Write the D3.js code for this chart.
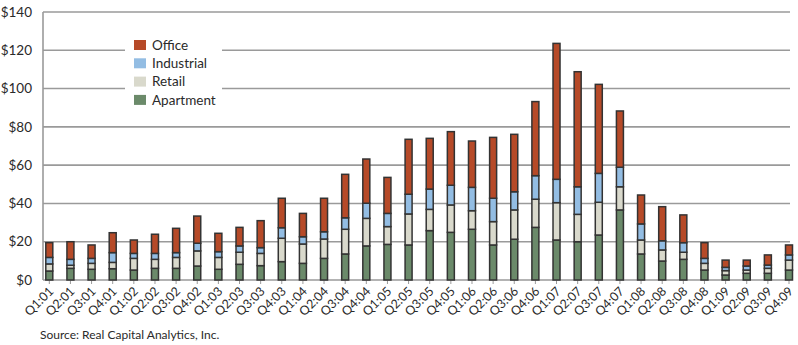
<!DOCTYPE html>
<html>
<head>
<meta charset="utf-8">
<script src="https://cdn.jsdelivr.net/npm/d3@7/dist/d3.min.js"></script>
<style>
  html, body { margin: 0; padding: 0; background: #fff; }
  svg { display: block; font-family: Lato, "Open Sans", sans-serif; }
</style>
</head>
<body>
<svg id="chart" width="798" height="345"></svg>
<script>
// Quarterly sales volume by property type ($ billions)
const quarters = [
  "Q1:01","Q2:01","Q3:01","Q4:01","Q1:02","Q2:02","Q3:02","Q4:02",
  "Q1:03","Q2:03","Q3:03","Q4:03","Q1:04","Q2:04","Q3:04","Q4:04",
  "Q1:05","Q2:05","Q3:05","Q4:05","Q1:06","Q2:06","Q3:06","Q4:06",
  "Q1:07","Q2:07","Q3:07","Q4:07","Q1:08","Q2:08","Q3:08","Q4:08",
  "Q1:09","Q2:09","Q3:09","Q4:09"
];
const apartment = [
  4.7, 6.1, 5.6, 5.9, 5.2, 6.1, 6.1, 7.3,
  5.6, 8.2, 7.5, 9.6, 8.7, 11.3, 13.6, 17.8,
  18.6, 18.3, 25.8, 24.9, 26.5, 18.3, 21.3, 27.5,
  20.9, 20.0, 23.5, 36.6, 13.6, 9.9, 10.8, 5.2,
  2.6, 3.5, 3.5, 5.2
];
const retail = [
  3.7, 1.6, 3.1, 3.3, 6.1, 4.7, 5.7, 7.9,
  6.2, 6.3, 6.4, 12.2, 10.1, 10.1, 12.9, 14.4,
  9.3, 16.2, 11.1, 14.3, 9.7, 12.2, 15.3, 14.7,
  19.5, 14.3, 17.1, 12.1, 7.3, 5.8, 3.7, 3.5,
  2.3, 1.7, 2.6, 5.2
];
const industrial = [
  3.4, 3.1, 2.6, 5.1, 2.6, 3.1, 2.5, 4.0,
  3.0, 3.3, 3.0, 5.5, 3.8, 3.8, 6.0, 7.9,
  6.9, 10.3, 10.6, 10.3, 12.2, 12.2, 9.5, 12.3,
  12.2, 14.4, 15.1, 10.2, 8.4, 4.8, 5.0, 2.6,
  1.7, 2.1, 1.7, 2.7
];
const office = [
  7.7, 9.2, 7.0, 10.4, 7.0, 10.0, 12.7, 14.2,
  9.6, 9.7, 14.1, 15.4, 12.2, 17.5, 22.7, 23.1,
  18.8, 28.7, 26.5, 28.0, 24.2, 31.8, 30.0, 38.7,
  71.0, 60.1, 46.5, 29.4, 15.1, 17.8, 14.5, 8.2,
  3.8, 3.1, 5.3, 5.2
];
const yTicks = [0, 20, 40, 60, 80, 100, 120, 140];
const seriesNames = ["Apartment", "Retail", "Industrial", "Office"];
const seriesColors = ["#6b8a6a", "#d9d9cc", "#93bde3", "#b64a28"];

const rows = quarters.map((q, i) => ({
  quarter: q,
  Apartment: apartment[i],
  Retail: retail[i],
  Industrial: industrial[i],
  Office: office[i]
}));

const svg = d3.select("#chart");
const plotLeft = 43, plotRight = 790, plotTop = 12, plotBottom = 280;

const x = d3.scalePoint().domain(quarters).range([49.3, 789]);
const y = d3.scaleLinear().domain([0, 140]).range([plotBottom, plotTop]);
const color = d3.scaleOrdinal().domain(seriesNames).range(seriesColors);
const barW = 7;

// horizontal gridlines
svg.append("g").selectAll("line")
  .data(yTicks)
  .join("line")
  .attr("x1", plotLeft).attr("x2", plotRight)
  .attr("y1", d => y(d)).attr("y2", d => y(d))
  .attr("stroke", "#9a9a9a")
  .attr("stroke-width", 1.6);

// left axis line
svg.append("line")
  .attr("x1", plotLeft).attr("x2", plotLeft)
  .attr("y1", y(140)).attr("y2", y(0))
  .attr("stroke", "#9a9a9a").attr("stroke-width", 1.6);

// y-axis labels
svg.append("g").selectAll("text")
  .data(yTicks)
  .join("text")
  .attr("x", 32)
  .attr("y", d => y(d))
  .attr("dy", "0.35em")
  .attr("text-anchor", "end")
  .attr("fill", "#2a2a2a")
  .style("font-size", "13.5px")
  .text(d => "$" + d);

// category ticks and rotated labels
const xg = svg.append("g");
xg.selectAll("line")
  .data(quarters)
  .join("line")
  .attr("x1", d => x(d)).attr("x2", d => x(d))
  .attr("y1", plotBottom).attr("y2", plotBottom + 4)
  .attr("stroke", "#9a9a9a").attr("stroke-width", 1);
xg.selectAll("text")
  .data(quarters)
  .join("text")
  .attr("transform", d => `translate(${x(d) + 5},${plotBottom + 12}) rotate(-45)`)
  .attr("text-anchor", "end")
  .attr("fill", "#2a2a2a")
  .style("font-size", "12.5px")
  .text(d => d);

// stacked bars
const stacked = d3.stack().keys(seriesNames)(rows);
svg.append("g").selectAll("g")
  .data(stacked)
  .join("g")
  .attr("fill", d => color(d.key))
  .selectAll("rect")
  .data(d => d)
  .join("rect")
  .attr("x", d => x(d.data.quarter) - barW / 2)
  .attr("y", d => y(d[1]))
  .attr("width", barW)
  .attr("height", d => y(d[0]) - y(d[1]))
  .attr("stroke", "#333")
  .attr("stroke-width", 1.5);

// legend
const legend = svg.append("g");
legend.append("rect")
  .attr("x", 125).attr("y", 31).attr("width", 97).attr("height", 74)
  .attr("fill", "#fff");
const legendOrder = ["Office", "Industrial", "Retail", "Apartment"];
const li = legend.selectAll("g.item")
  .data(legendOrder)
  .join("g")
  .attr("class", "item")
  .attr("transform", (d, i) => `translate(134,${40 + i * 18.3})`);
li.append("rect")
  .attr("width", 12).attr("height", 10)
  .attr("fill", d => color(d));
li.append("text")
  .attr("x", 18).attr("y", 5)
  .attr("dy", "0.35em")
  .attr("fill", "#2a2a2a")
  .style("font-size", "13.5px")
  .text(d => d);

// source note
svg.append("text")
  .attr("x", 40).attr("y", 339)
  .attr("fill", "#2a2a2a")
  .style("font-size", "12px")
  .text("Source: Real Capital Analytics, Inc.");
</script>
</body>
</html>
